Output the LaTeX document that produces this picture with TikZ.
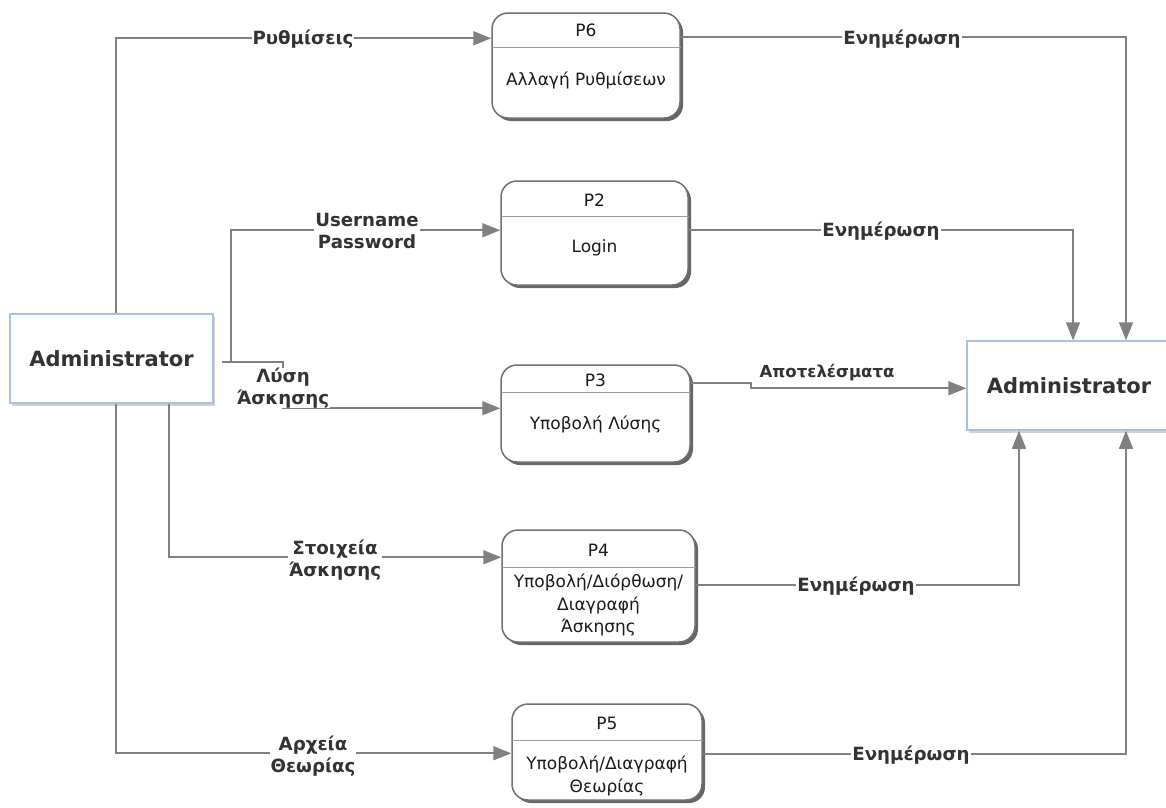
\documentclass[tikz,border=0pt]{standalone}
\usepackage{fontspec}
\setmainfont{DejaVu Sans}
\usetikzlibrary{arrows.meta,calc,shadows}

\definecolor{flowgrey}{HTML}{808080}
\definecolor{boxgrey}{HTML}{707070}
\definecolor{rulegrey}{HTML}{9A9A9A}
\definecolor{entityblue}{HTML}{A9C3DC}
\definecolor{labelink}{HTML}{333333}
\definecolor{bodyink}{HTML}{1A1A1A}

\tikzset{
  flow/.style={draw=flowgrey, line width=1.6pt, -{Triangle[length=18pt,width=14pt]}},
  entity/.style={draw=entityblue, line width=1.5pt, fill=white, inner sep=0pt,
    drop shadow={shadow xshift=2pt, shadow yshift=-3pt, fill=black!18, opacity=1},
    font=\fontsize{21}{24}\selectfont\bfseries, text=labelink},
  proc/.style={draw=boxgrey, line width=1.5pt, fill=white, rounded corners=16pt, inner sep=0pt,
    drop shadow={shadow xshift=3pt, shadow yshift=-3pt, fill=black!80, opacity=0.75}},
  divider/.style={draw=rulegrey, line width=1pt},
  ptext/.style={font=\fontsize{17}{22.5}\selectfont, text=bodyink, align=center, inner sep=0pt},
  lbl/.style={font=\fontsize{18.2}{22}\selectfont\bfseries, text=labelink, fill=white,
    align=center, inner xsep=1pt, inner ysep=0pt},
}

\begin{document}
\begin{tikzpicture}[x=1pt, y=-1pt]
\useasboundingbox (0,0) rectangle (1166,807);

% external entities
\node[entity, minimum width=203pt, minimum height=89pt] (admL) at (111.5,358.5) {Administrator};
\node[entity, minimum width=208pt, minimum height=89pt] (admR) at (1071,385.5) {\hspace*{-4pt}Administrator};

% processes
\node[proc, minimum width=188pt, minimum height=105pt] (p6) at (586,65.5) {};
\node[proc, minimum width=187pt, minimum height=104pt] (p2) at (594.5,233) {};
\node[proc, minimum width=189pt, minimum height=97pt]  (p3) at (595.5,413.5) {};
\node[proc, minimum width=193pt, minimum height=112pt] (p4) at (598.5,586) {};
\node[proc, minimum width=190pt, minimum height=96pt]  (p5) at (607,752) {};

% header dividers
\draw[divider] ($(p6.north west)+(0,35)$) -- ($(p6.north east)+(0,35)$);
\draw[divider] ($(p2.north west)+(0,36)$) -- ($(p2.north east)+(0,36)$);
\draw[divider] ($(p3.north west)+(0,28)$) -- ($(p3.north east)+(0,28)$);
\draw[divider] ($(p4.north west)+(0,38)$) -- ($(p4.north east)+(0,38)$);
\draw[divider] ($(p5.north west)+(0,37)$) -- ($(p5.north east)+(0,37)$);

% process texts
\node[ptext] (p6h) at (586,30) {P6};
\node[ptext] (p6b) at (586,80) {Αλλαγή Ρυθμίσεων};
\node[ptext] (p2h) at (594.5,200) {P2};
\node[ptext] (p2b) at (594.5,248) {Login};
\node[ptext] (p3h) at (595.5,380) {P3};
\node[ptext] (p3b) at (595.5,424) {Υποβολή Λύσης};
\node[ptext] (p4h) at (598.5,550) {P4};
\node[ptext] (p4b) at (598.5,605) {Υποβολή/Διόρθωση/\\Διαγραφή\\Άσκησης};
\node[ptext] (p5h) at (607,723) {P5};
\node[ptext] (p5b) at (607,776) {Υποβολή/Διαγραφή\\Θεωρίας};

% vertical guide lines
\coordinate (xa) at (116,0);
\coordinate (xb) at (169,0);
\coordinate (xc) at (231,0);
\coordinate (xd) at (283,0);
\coordinate (xe) at (751,0);
\coordinate (xf) at (1019,0);
\coordinate (xg) at (1073,0);
\coordinate (xh) at (1126,0);
\coordinate (tap) at ($(admL.east)+(8,3.5)$);

% flows out of the left entity
\draw[flow] (admL.north -| xa) |- ($(p6.north west)+(0,26)$);
\draw[flow] (tap) -- (tap -| xc) |- ($(p2.north west)+(0,50)$);
\draw[flow] (tap) -- (tap -| xd) |- ($(p3.north west)+(0,44)$);
\draw[flow] (admL.south -| xb) |- ($(p4.north west)+(0,28)$);
\draw[flow] (admL.south -| xa) |- ($(p5.north west)+(0,50)$);

% flows into the right entity
\draw[flow] ($(p6.north east)+(0,25)$) -| (admR.north -| xh);
\draw[flow] ($(p2.north east)+(0,50)$) -| (admR.north -| xg);
\draw[flow] ($(p3.north east)+(0,19)$) -| ($(p3.north east -| xe)+(0,24)$) -- ($(admR.north west)+(0,48)$);
\draw[flow] ($(p4.north east)+(0,56)$) -| (admR.south -| xf);
\draw[flow] ($(p5.north east)+(0,51)$) -| (admR.south -| xh);

% flow labels
\node[lbl] (l1) at (303,39) {Ρυθμίσεις};
\node[lbl] (l2) at (367,231) {Username\\Password};
\node[lbl] (l3) at (283,388) {Λύση\\Άσκησης};
\node[lbl] (l4) at (335,560) {Στοιχεία\\Άσκησης};
\node[lbl] (l5) at (313,756) {Αρχεία\\Θεωρίας};
\node[lbl] (l6) at (902,39) {Ενημέρωση};
\node[lbl] (l7) at (881,231) {Ενημέρωση};
\node[lbl, fill=none, font=\fontsize{16.5}{20}\selectfont\bfseries] (l8) at (827,373) {Αποτελέσματα};
\node[lbl] (l9) at (856,586) {Ενημέρωση};
\node[lbl] (l10) at (911,755) {Ενημέρωση};
\end{tikzpicture}
\end{document}
